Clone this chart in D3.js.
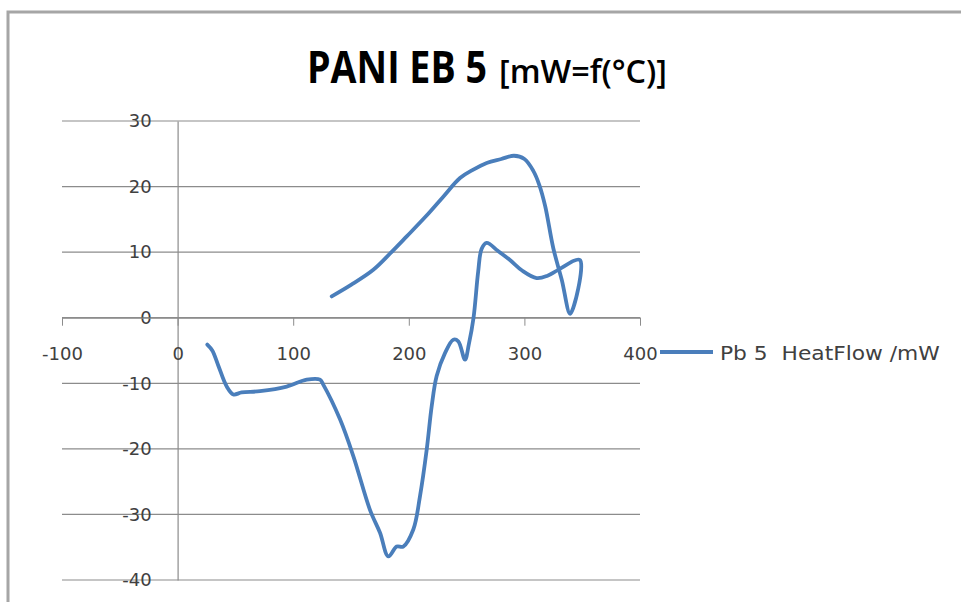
<!DOCTYPE html>
<html>
<head>
<meta charset="utf-8">
<script src="https://cdn.jsdelivr.net/npm/d3@7"></script>
<style>
  body { margin: 0; background: #fff; }
  svg { display: block; }
</style>
</head>
<body>
<div id="chart"></div>
<script>
// temperature (°C) and heat flow (mW), in drawing order
var temperature = [25.7, 30, 35, 42.5, 48.2, 55.4, 71.3, 94.4, 111.7, 123.2, 126, 140.5, 152, 166.4, 175.1, 182.3,
  189.5, 195.2, 203.9, 209.7, 215.5, 219.8, 224.1, 231.3, 238.5, 242.8, 248.6, 252, 256, 260, 263, 267.4,
  277, 287.5, 298, 310.6, 320, 329.3, 348,
  339.6, 332.3, 325, 318, 313, 307.7, 300, 291, 280, 267.4, 255, 244.3, 230, 215, 198.2, 185, 169.3, 150, 133.3];
var heatFlow = [-4.1, -5, -7.2, -10.5, -11.7, -11.4, -11.2, -10.5, -9.45, -9.45, -10.2, -15.5, -21.1, -29.3, -32.8, -36.4,
  -34.9, -34.9, -32.3, -27.2, -20.1, -13.5, -8.9, -5.4, -3.35, -3.6, -6.4, -4, 0, 7, 10.5, 11.4,
  10.2, 8.8, 7.2, 6.05, 6.4, 7.3, 8.8,
  0.6, 5.8, 10.6, 17, 20.2, 22.4, 24.2, 24.7, 24.2, 23.6, 22.5, 21.3, 18.5, 15.5, 12.4, 10, 7.3, 5, 3.25];

var xTicks = [-100, 0, 100, 200, 300, 400];
var yTicks = [-40, -30, -20, -10, 0, 10, 20, 30];
var seriesName = "Pb 5  HeatFlow /mW";

var width = 961, height = 602;
var blue = "#4a7ebb";

var svg = d3.select("#chart").append("svg")
  .attr("width", width)
  .attr("height", height);

// chart frame
svg.append("rect")
  .attr("x", 8).attr("y", 12)
  .attr("width", 1000).attr("height", 700)
  .attr("fill", "#fff")
  .attr("stroke", "#a6a6a6")
  .attr("stroke-width", 3);

var x = d3.scaleLinear().domain([-100, 400]).range([62, 640]);
var y = d3.scaleLinear().domain([-40, 30]).range([580, 121]);

function plain(d) { return String(d); } // hyphen minus like the original

// squeeze/stretch a text horizontally so it spans w pixels from (px, py)
function fitWidth(t, px, py, w) {
  var natural = t.node().getComputedTextLength();
  t.attr("transform", "translate(" + px + "," + py + ") scale(" + (w / natural) + ",1)");
  return t;
}

// horizontal gridlines
svg.append("g")
  .selectAll("line")
  .data(yTicks)
  .enter().append("line")
  .attr("x1", x(-100)).attr("x2", x(400))
  .attr("y1", function(d) { return y(d); })
  .attr("y2", function(d) { return y(d); })
  .attr("stroke", "#8c8c8c")
  .attr("stroke-width", 1.2);

// y axis at x = 0
var yAxis = svg.append("g")
  .attr("transform", "translate(" + x(0) + ",0)")
  .call(d3.axisLeft(y).tickValues(yTicks).tickFormat(plain).tickSize(0).tickPadding(26));
yAxis.select(".domain").attr("stroke", "#8c8c8c").attr("stroke-width", 1.2);
yAxis.selectAll("text")
  .attr("fill", "#404040")
  .style("font-family", "DejaVu Sans")
  .style("font-size", "18px");

// x axis at y = 0
var xAxis = svg.append("g")
  .attr("transform", "translate(0," + y(0) + ")")
  .call(d3.axisBottom(x).tickValues(xTicks).tickFormat(plain).tickSize(8).tickSizeOuter(0).tickPadding(22));
xAxis.select(".domain").attr("stroke", "#8c8c8c").attr("stroke-width", 1.2);
xAxis.selectAll(".tick line").attr("stroke", "#8c8c8c");
xAxis.selectAll("text")
  .attr("fill", "#404040")
  .style("font-family", "DejaVu Sans")
  .style("font-size", "18px");

// the curve
var line = d3.line()
  .x(function(d) { return x(d[0]); })
  .y(function(d) { return y(d[1]); })
  .curve(d3.curveCatmullRom.alpha(0.5));

var points = temperature.map(function(t, i) { return [t, heatFlow[i]]; });

svg.append("path")
  .datum(points)
  .attr("d", line)
  .attr("fill", "none")
  .attr("stroke", blue)
  .attr("stroke-width", 3.8)
  .attr("stroke-linejoin", "round")
  .attr("stroke-linecap", "round");

// title in two runs
var t1 = svg.append("text")
  .style("font-family", "Open Sans")
  .style("font-weight", "bold")
  .style("font-size", "45px")
  .attr("fill", "#000")
  .text("PANI EB 5");
fitWidth(t1, 307, 83, 180);

var t2 = svg.append("text")
  .style("font-family", "Open Sans")
  .style("font-weight", "600")
  .style("font-size", "32px")
  .attr("fill", "#000")
  .text("[mW=f(°C)]");
fitWidth(t2, 499, 83, 168);

// legend
svg.append("line")
  .attr("x1", 660).attr("x2", 713)
  .attr("y1", 352).attr("y2", 352)
  .attr("stroke", blue)
  .attr("stroke-width", 3.8);
var lg = svg.append("text")
  .style("white-space", "pre")
  .style("font-family", "DejaVu Sans")
  .style("font-size", "19px")
  .attr("fill", "#404040")
  .text(seriesName);
fitWidth(lg, 720, 360, 220);
</script>
</body>
</html>
